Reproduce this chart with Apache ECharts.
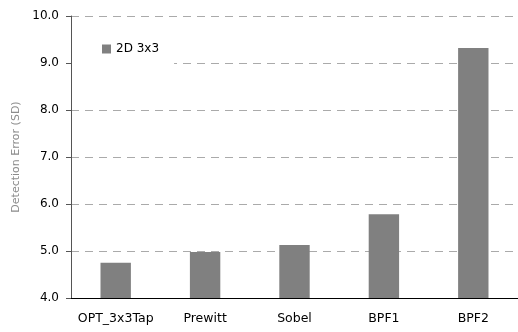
<!DOCTYPE html>
<html><head><meta charset="utf-8">
<script src="https://cdn.jsdelivr.net/npm/echarts@6/dist/echarts.min.js"></script>
<style>html,body{margin:0;padding:0;background:#fff}#c{width:518px;height:332px}</style>
</head><body><div id="c"></div>
<script>
const categories = ['OPT_3x3Tap', 'Prewitt', 'Sobel', 'BPF1', 'BPF2'];
const seriesName = '2D 3x3';
const values = [4.75, 4.98, 5.13, 5.78, 9.32];
const yMin = 4.0, yMax = 10.0, yStep = 1.0;
const yAxisTitle = 'Detection Error (SD)';

const chart = echarts.init(document.getElementById('c'), null, {renderer: 'canvas'});
chart.setOption({
  animation: false,
  textStyle: {fontFamily: 'DejaVu Sans'},
  grid: {left: 71, top: 16, width: 454, height: 282, containLabel: false},
  legend: {
    data: [seriesName], left: 72, top: 35, itemWidth: 9, itemHeight: 9, itemGap: 4,
    icon: 'rect', backgroundColor: '#fff', padding: [8, 15, 10, 30],
    textStyle: {fontSize: 12, color: '#000', fontFamily: 'DejaVu Sans'}
  },
  xAxis: {
    type: 'category', data: categories,
    axisLine: {lineStyle: {color: '#000', width: 1}},
    axisTick: {show: false},
    axisLabel: {fontSize: 12.5, color: '#000', margin: 14, interval: 0}
  },
  yAxis: {
    type: 'value', min: yMin, max: yMax, interval: yStep,
    name: yAxisTitle, nameLocation: 'middle', nameGap: 47, nameRotate: 90,
    nameTextStyle: {fontSize: 11, color: '#8c8c8c'},
    axisLine: {show: true, lineStyle: {color: '#555', width: 1}},
    axisTick: {show: true, length: 5, lineStyle: {color: '#555'}},
    axisLabel: {fontSize: 12, color: '#000', margin: 12, formatter: v => v.toFixed(1)},
    splitLine: {show: true, lineStyle: {color: '#aaa', type: [8, 6], width: 1}}
  },
  series: [{
    name: seriesName, type: 'bar', data: values, barWidth: '34%',
    itemStyle: {color: '#808080'}
  }]
});
</script></body></html>
